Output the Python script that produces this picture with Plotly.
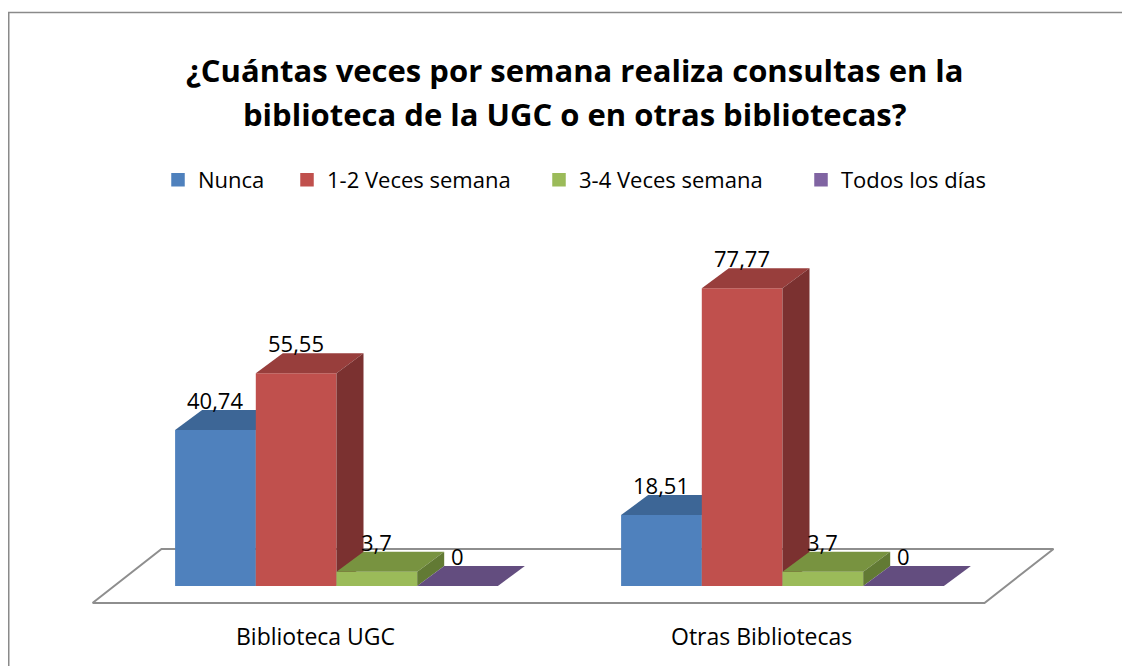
import plotly.graph_objects as go

# ---------------- data ----------------
categories = ["Biblioteca UGC", "Otras Bibliotecas"]
series_names = ["Nunca", "1-2 Veces semana", "3-4 Veces semana", "Todos los días"]
nunca = [40.74, 18.51]
veces_1_2 = [55.55, 77.77]
veces_3_4 = [3.7, 3.7]
todos_los_dias = [0, 0]
series_values = [nunca, veces_1_2, veces_3_4, todos_los_dias]
title_lines = ["¿Cuántas veces por semana realiza consultas en la",
               "biblioteca de la UGC o en otras bibliotecas?"]

# ---------------- styles ----------------
front_colors = ["#4F81BD", "#C0504D", "#9BBB59", "#8064A2"]
top_colors = ["#3D6696", "#983E3C", "#789340", "#634D7F"]
side_colors = ["#345880", "#7B3130", "#627A34", "#513F68"]
FONT = "Open Sans"

OFF = 8               # page body margin (screen px -> figure px)
W, H = 1130 - OFF, 666 - OFF
cat_px = 446.0                 # pixels per category step
x0_px = 336.5 - OFF            # pixel position of category 0
y0_px = 586.0 - OFF            # pixel position of value 0
px_per_unit = 3.83             # pixels per value unit

xrange = [-x0_px / cat_px, (W - x0_px) / cat_px]
yrange = [-(H - y0_px) / px_per_unit, y0_px / px_per_unit]

n_series = len(series_names)
bar_w = 80.7 / cat_px
group_w = n_series * bar_w
dx = 27 / cat_px                 # depth offset (x)
dy = 20 / px_per_unit            # depth offset (y)
fdx = 21 / cat_px                # floor margin (x)
fdy = 17 / px_per_unit           # floor margin (y)


def fmt(v):
    return f"{v:g}".replace(".", ",")


fig = go.Figure()

# floor
n_cat = len(categories)
fx = [-0.5 - fdx, n_cat - 0.5 - fdx, n_cat - 0.5 + dx + fdx, -0.5 + dx + fdx, -0.5 - fdx]
fy = [-fdy, -fdy, dy + fdy, dy + fdy, -fdy]
fig.add_trace(go.Scatter(x=fx, y=fy, mode="lines", fill="toself", fillcolor="white",
                         line=dict(color="#8E8E8E", width=2), showlegend=False,
                         hoverinfo="skip"))

annotations = []
for c in range(n_cat):
    for j in range(n_series):
        v = series_values[j][c]
        xl = c - group_w / 2 + j * bar_w
        xr = xl + bar_w
        # front face
        fig.add_trace(go.Scatter(x=[xl, xr, xr, xl, xl], y=[0, 0, v, v, 0],
                                 mode="none", fill="toself", fillcolor=front_colors[j],
                                 showlegend=False, name=series_names[j],
                                 hoverinfo="skip"))
        # top face
        fig.add_trace(go.Scatter(x=[xl, xr, xr + dx, xl + dx, xl], y=[v, v, v + dy, v + dy, v],
                                 mode="none", fill="toself", fillcolor=top_colors[j],
                                 showlegend=False, hoverinfo="skip"))
        # side face
        if v > 0:
            fig.add_trace(go.Scatter(x=[xr, xr + dx, xr + dx, xr, xr], y=[0, dy, v + dy, v, 0],
                                     mode="none", fill="toself", fillcolor=side_colors[j],
                                     showlegend=False, hoverinfo="skip"))
        annotations.append(dict(x=(xl + xr) / 2, y=v + dy, xref="x", yref="y",
                                text=fmt(v), showarrow=False, yanchor="bottom", yshift=-7,
                                font=dict(family=FONT, size=22, color="black")))
    # category label
    annotations.append(dict(x=c - fdx, y=(y0_px - (636 - OFF)) / px_per_unit, xref="x", yref="y",
                            text=categories[c], showarrow=False, yanchor="middle",
                            font=dict(family=FONT, size=23, color="black")))

# legend entries (one legend per entry, Excel-like spacing)
legend_sq_px = [172, 301, 553, 815]
legend_layouts = {}
for j in range(n_series):
    key = "legend" if j == 0 else f"legend{j + 1}"
    fig.add_trace(go.Bar(x=[None], y=[None], name=series_names[j],
                         marker=dict(color=front_colors[j], line=dict(color=front_colors[j], width=1.5)),
                         legend=key, showlegend=True))
    legend_layouts[key] = dict(x=(legend_sq_px[j] - OFF - 14) / W, y=1 - (180 - OFF) / H,
                               xanchor="left", yanchor="middle", orientation="h",
                               font=dict(family=FONT, size=22, color="black"),
                               bgcolor="rgba(0,0,0,0)", borderwidth=0)

# title (two lines, Excel-like line spacing)
title_centers = [70, 114]
for line, yc in zip(title_lines, title_centers):
    annotations.append(dict(x=(575 - OFF) / W, y=1 - (yc - OFF) / H, xref="paper", yref="paper",
                            text=line, showarrow=False,
                            yanchor="middle", xanchor="center",
                            font=dict(family=FONT, size=31, color="black", weight="bold")))

fig.update_layout(
    width=W, height=H,
    margin=dict(l=0, r=0, t=0, b=0),
    paper_bgcolor="white", plot_bgcolor="white",
    xaxis=dict(range=xrange, visible=False, fixedrange=True),
    yaxis=dict(range=yrange, visible=False, fixedrange=True),
    annotations=annotations,
    shapes=[dict(type="rect", xref="paper", yref="paper",
                 x0=0.75 / W, y0=-0.05, x1=1.05, y1=1 - (12.5 - OFF) / H,
                 line=dict(color="#8A8A8A", width=1.5))],
    hovermode=False,
    **legend_layouts,
)

fig.write_html("out.html")
